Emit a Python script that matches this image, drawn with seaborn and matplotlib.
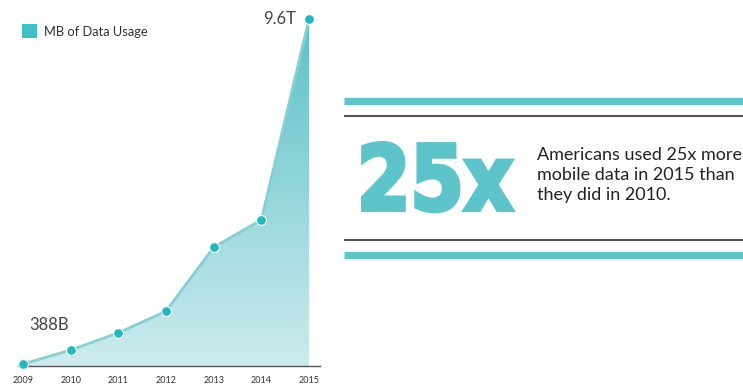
import numpy as np
import pandas as pd
import matplotlib
matplotlib.use("Agg")
import matplotlib.pyplot as plt
import seaborn as sns
from matplotlib.patches import Rectangle
from matplotlib.patheffects import AbstractPathEffect
from matplotlib.transforms import Affine2D
from matplotlib.colors import LinearSegmentedColormap

# ---- data ----
years = [2009, 2010, 2011, 2012, 2013, 2014, 2015]
usage_billion_mb = [0, 388, 867, 1468, 3250, 4010, 9600]
year_labels = ["2009", "2010", "2011", "2012", "2013", "2014", "2015"]
label_first = "388B"
label_last = "9.6T"
legend_label = "MB of Data Usage"
big_stat = "25x"
stat_lines = ["Americans used 25x more", "mobile data in 2015 than", "they did in 2010."]

df = pd.DataFrame({"year": years, "usage": usage_billion_mb})

sns.set_theme(style="white")
plt.rcParams["font.family"] = ["Lato", "DejaVu Sans"]

W, H = 743, 387
fig = plt.figure(figsize=(W / 100, H / 100), dpi=100)
fig.patch.set_facecolor("white")

TEAL = "#5ec4cc"
DOT = "#22b7c1"
LINE = "#86d0d4"

# main chart axes (pixel placement)
L, R = 18, 320
top_px, bot_px = 10, 366
ax = fig.add_axes([L / W, (H - bot_px) / H, (R - L) / W, (bot_px - top_px) / H])
pxyr = (309 - 23) / 6.0
ax.set_xlim(2009 - (23 - L) / pxyr, 2015 + (R - 309) / pxyr)
pxval = 9600 / (364 - 19)
ylo = -(366 - 364) * pxval
yhi = 9600 + (19 - top_px) * pxval
ax.set_ylim(ylo, yhi)

# gradient area
poly = ax.fill_between(df["year"], df["usage"], ylo, color="none", lw=0)
cmap = LinearSegmentedColormap.from_list("g", ["#cdebee", "#5cc1c7"])
grad = np.linspace(0, 1, 256).reshape(-1, 1)
im = ax.imshow(grad, extent=[2009, 2015, ylo, 9600], origin="lower", aspect="auto",
               cmap=cmap, zorder=1)
im.set_clip_path(poly.get_paths()[0], transform=ax.transData)

sns.lineplot(data=df, x="year", y="usage", color=LINE, lw=2, ax=ax, zorder=2)
sns.scatterplot(data=df, x="year", y="usage", color=DOT, s=50, edgecolor="white",
                linewidth=0.8, ax=ax, zorder=3, clip_on=False)

ax.set_xlabel("")
ax.set_ylabel("")
ax.set_yticks([])
ax.set_xticks(years)
ax.set_xticklabels(year_labels, fontsize=6.5, color="#333333")
ax.tick_params(axis="x", length=0, pad=7)
for s in ["top", "right", "left"]:
    ax.spines[s].set_visible(False)
ax.spines["bottom"].set_color("#555555")
ax.spines["bottom"].set_linewidth(1.0)

ax.text(2009 + (49 - 23) / pxyr, (364 - 325) * pxval, label_first, fontsize=12,
        color="#444444", ha="center", va="center")
ax.text(2015 - (309 - 296) / pxyr, 9600, label_last, fontsize=12,
        color="#444444", ha="right", va="center")

# overlay for legend + right panel
ov = fig.add_axes([0, 0, 1, 1])
ov.set_xlim(0, W)
ov.set_ylim(H, 0)
ov.axis("off")
ov.patch.set_alpha(0)

ov.add_patch(Rectangle((22, 24), 15, 14, facecolor="#3fbfc7", edgecolor="none"))
ov.text(44, 31.5, legend_label, fontsize=9.3, color="#333333", ha="left", va="center")

ov.hlines([100.5, 254.5], 344, W, color=TEAL, lw=5.2)
ov.hlines([115.5, 240], 344, W, color="#555555", lw=1.5)


class StretchStroke(AbstractPathEffect):
    def __init__(self, sx, sy, x0, y0, lw, color):
        super().__init__()
        self.sx, self.sy, self.x0, self.y0 = sx, sy, x0, y0
        self.lw, self.color = lw, color

    def draw_path(self, renderer, gc, tpath, affine, rgbFace=None):
        t = affine + Affine2D().translate(-self.x0, -self.y0).scale(self.sx, self.sy).translate(self.x0, self.y0)
        gc0 = renderer.new_gc()
        gc0.copy_properties(gc)
        gc0.set_linewidth(self.lw)
        gc0.set_foreground(self.color)
        gc0.set_joinstyle("miter")
        renderer.draw_path(gc0, tpath, t, rgbFace)
        gc0.restore()


x0, ybase = 357, 210
ov.text(x0, ybase, big_stat, fontsize=65, fontweight="bold", color=TEAL,
        family="DejaVu Sans", ha="left", va="baseline",
        path_effects=[StretchStroke(0.85, 1.0, x0, H - ybase, 3.0, TEAL)])

for i, line in enumerate(stat_lines):
    ov.text(537, 160 + 20 * i, line, fontsize=13, color="#222222",
            ha="left", va="baseline")

fig.savefig("out.png", dpi=100)
